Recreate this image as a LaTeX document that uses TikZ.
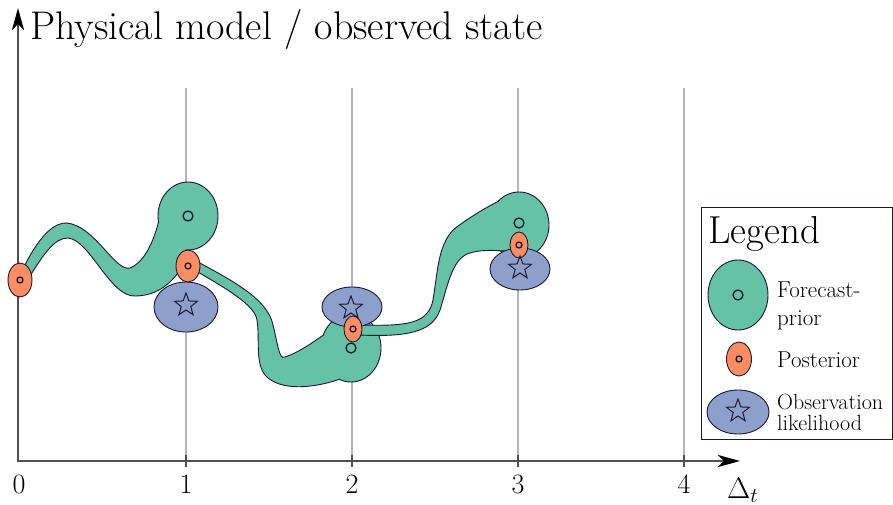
\RequirePackage{fix-cm}
\documentclass[tikz,border=0pt]{standalone}
\usetikzlibrary{shapes.geometric,arrows.meta}

\definecolor{forecastgreen}{RGB}{102,194,165}
\definecolor{posteriororange}{RGB}{252,141,98}
\definecolor{obsblue}{RGB}{141,160,203}
\definecolor{edgenavy}{RGB}{25,25,50}
\definecolor{axisgray}{RGB}{80,80,80}
\definecolor{gridgray}{RGB}{180,180,180}

% Edges of the three bands (upper edge, then lower edge run backwards)
\newcommand{\bandAup}{(25,265) .. controls (40,235) and (55,222) .. (67,223) .. controls (95,226) and (115,272) .. (130,268) .. controls (145,262) and (154,240) .. (158.5,222)}
\newcommand{\bandAlo}{(180,270) .. controls (170,285) and (155,296) .. (135,296) .. controls (110,297) and (90,240) .. (68,238) .. controls (55,238) and (45,252) .. (30,276)}
\newcommand{\bandBup}{(198,262) .. controls (235,282) and (268,300) .. (273,325) .. controls (278,345) and (279,360) .. (285,357) .. controls (300,352) and (313,342) .. (323.5,335)}
\newcommand{\bandBlo}{(340,379) .. controls (315,388) and (280,392) .. (265,375) .. controls (255,362) and (260,340) .. (257,320) .. controls (255,305) and (225,288) .. (198,272)}
\newcommand{\bandCup}{(359,325) .. controls (405,326) and (428,325) .. (433,300) .. controls (438,270) and (438,240) .. (458,226) .. controls (472,216) and (485,208) .. (499,201)}
\newcommand{\bandClo}{(505,251) .. controls (490,250) and (480,250) .. (470,253) .. controls (452,258) and (448,285) .. (440,310) .. controls (432,333) and (405,337) .. (359,335)}

\begin{document}
\begin{tikzpicture}[x=1pt, y=-1pt,
    gridline/.style={gridgray, line width=1.3pt},
    axis/.style={axisgray, line width=2.4pt, {Stealth[length=22pt, width=12pt, inset=6pt, color=black]}-{Stealth[length=22pt, width=12pt, inset=6pt, color=black]}},
    tickmark/.style={axisgray, line width=2pt},
    blob/.style={ellipse, draw=edgenavy, line width=0.9pt, inner sep=0pt},
    forecast/.style={blob, fill=forecastgreen, minimum width=60pt, minimum height=68pt},
    posterior/.style={blob, fill=posteriororange},
    obs/.style={blob, fill=obsblue},
    band/.style={draw=edgenavy, line width=0.9pt},
    fmark/.style={circle, draw=edgenavy, line width=1.3pt, minimum size=10pt, inner sep=0pt},
    pmark/.style={circle, draw=edgenavy, line width=1.3pt, minimum size=6pt, inner sep=0pt},
    omark/.style={star, star points=5, star point ratio=2.4, draw=edgenavy, line width=1pt, minimum size=24pt, inner sep=0pt},
    ticklabel/.style={inner sep=0pt, font=\fontsize{28}{30}\selectfont},
    legendlabel/.style={anchor=base west, inner sep=0pt, align=left}]

    \useasboundingbox (0,0) rectangle (893,505);

    % Grid lines
    \foreach \x in {186,352,518,684}
        \draw[gridline] (\x,88) -- (\x,461);

    % Axes
    \coordinate (origin) at (18,461);
    \coordinate (ytip) at (18,8);
    \coordinate (xtip) at (740,461);
    \draw[axis] (ytip) -- (origin) -- (xtip);
    \foreach \x in {186,352,518,684}
        \draw[tickmark] (\x,455) -- (\x,467);

    % Axis labels
    \foreach \x/\lbl in {19/0,186/1,352/2,518/3,684/4}
        \node[ticklabel] (tick\lbl) at (\x,484) {\lbl};
    \node[anchor=base west, inner sep=0pt, font=\fontsize{30}{32}\selectfont] (dt) at (727,498) {$\Delta_t$};
    \node[anchor=base west, inner sep=0pt, font=\fontsize{40}{44}\selectfont] (title) at (30,40) {Physical model / observed state};

    % Forecasts
    \node[forecast] (f1) at (188,216) {};
    \node[forecast] (f2) at (351,348) {};
    \node[forecast, minimum height=66pt] (f3) at (519,225) {};

    % Bands
    \fill[forecastgreen] \bandAup -- (186,248) -- \bandAlo -- cycle;
    \draw[band] \bandAup \bandAlo;
    \fill[forecastgreen] \bandBup -- \bandBlo -- cycle;
    \draw[band] \bandBup \bandBlo;
    \fill[forecastgreen] \bandCup -- \bandClo -- cycle;
    \draw[band] \bandCup \bandClo;

    % Observations
    \node[obs, minimum width=64pt, minimum height=50pt] (o1) at (186,307) {};
    \node[obs, minimum width=60pt, minimum height=40pt] (o2) at (352,307) {};
    \node[obs, minimum width=60pt, minimum height=42pt] (o3) at (520,269) {};

    % Posteriors
    \node[posterior, minimum width=24pt, minimum height=34pt] (p0) at (20,280) {};
    \node[posterior, minimum width=24pt, minimum height=32pt] (p1) at (188,266) {};
    \node[posterior, minimum width=18pt, minimum height=26pt] (p2) at (353,329) {};
    \node[posterior, minimum width=18pt, minimum height=26pt] (p3) at (519,245) {};

    % Markers
    \node[fmark] (fm1) at (f1) {};
    \node[fmark] (fm2) at (351,348) {};
    \node[fmark] (fm3) at (519,223) {};
    \node[omark] (om1) at (186,305) {};
    \node[omark] (om2) at (351,308) {};
    \node[omark] (om3) at (520,268) {};
    \foreach \p in {p0,p1,p2,p3}
        \node[pmark] (\p m) at (\p) {};

    % Legend
    \draw[edgenavy, line width=0.9pt] (701,207) rectangle (892,439);
    \node[anchor=base west, inner sep=0pt, font=\fontsize{39}{44}\selectfont] (legend) at (708,243) {Legend};
    \node[forecast, minimum height=70pt] (lf) at (738,295) {};
    \node[fmark] (lfm) at (lf) {};
    \node[posterior, minimum width=25pt, minimum height=34pt] (lp) at (739,359) {};
    \node[pmark] (lpm) at (lp) {};
    \node[obs, minimum width=62pt, minimum height=44pt] (lo) at (738,412) {};
    \node[omark] (lom) at (738,411) {};
    \node[legendlabel, font=\fontsize{23}{28}\selectfont] (lfl) at (777,325) {Forecast-\\prior};
    \node[legendlabel, font=\fontsize{23}{28}\selectfont] (lpl) at (777,367) {Posterior};
    \node[legendlabel, font=\fontsize{22}{21}\selectfont] (lol) at (777,430) {Observation\\likelihood};

\end{tikzpicture}
\end{document}
